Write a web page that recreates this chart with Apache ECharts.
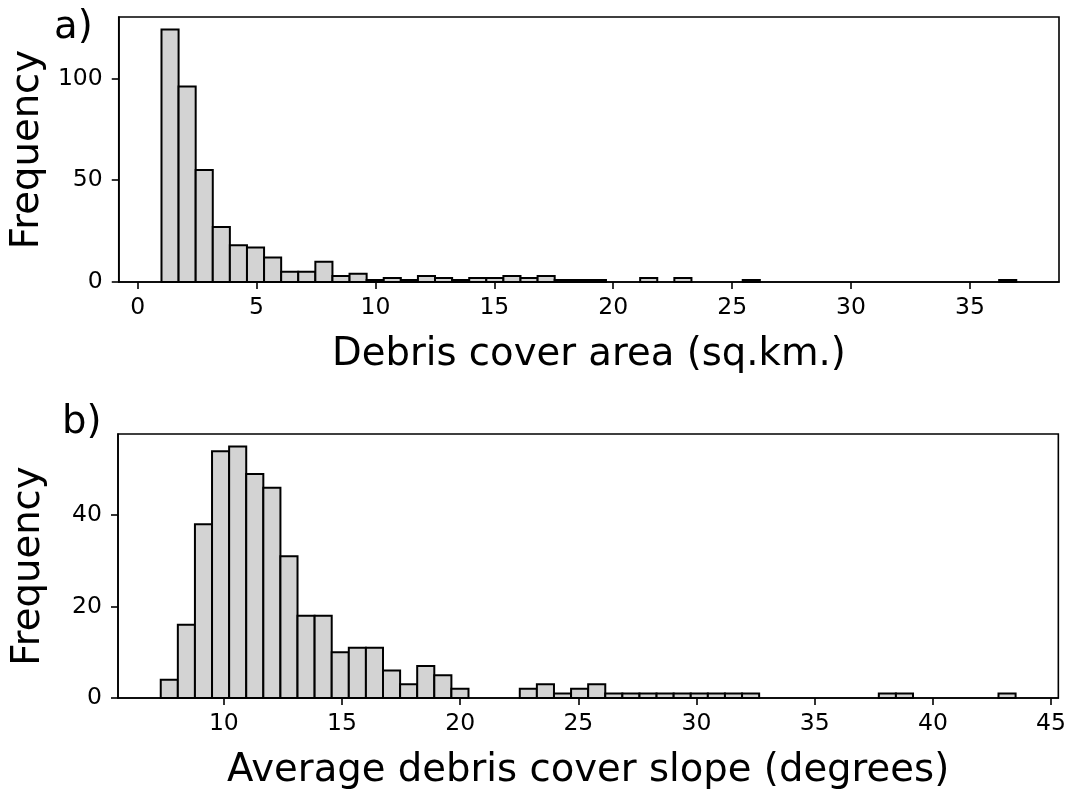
<!DOCTYPE html>
<html>
<head>
<meta charset="utf-8">
<title>Debris cover histograms</title>
<script src="https://cdn.jsdelivr.net/npm/echarts@6/dist/echarts.min.js"></script>
<style>
html, body { margin: 0; padding: 0; background: #fff; }
#chart { width: 1069px; height: 793px; }
</style>
</head>
<body>
<div id="chart"></div>
<script>
// a) debris cover area, 50 bins between the min and max of the data
var areaRange = [1.0, 36.95];
var areaCounts = [124, 96, 55, 27, 18, 17, 12, 5, 5, 10,
                  3, 4, 1, 2, 1, 3, 2, 1, 2, 2,
                  3, 2, 3, 1, 1, 1, 0, 0, 2, 0,
                  2, 0, 0, 0, 1, 0, 0, 0, 0, 0,
                  0, 0, 0, 0, 0, 0, 0, 0, 0, 1];
var areaTicks = [0, 5, 10, 15, 20, 25, 30, 35];
var areaFreqTicks = [0, 50, 100];

// b) average debris cover slope, 50 bins
var slopeRange = [7.33, 43.5];
var slopeCounts = [4, 16, 38, 54, 55, 49, 46, 31, 18, 18,
                   10, 11, 11, 6, 3, 7, 5, 2, 0, 0,
                   0, 2, 3, 1, 2, 3, 1, 1, 1, 1,
                   1, 1, 1, 1, 1, 0, 0, 0, 0, 0,
                   0, 0, 1, 1, 0, 0, 0, 0, 0, 1];
var slopeTicks = [10, 15, 20, 25, 30, 35, 40, 45];
var slopeFreqTicks = [0, 20, 40];

var FONT = 'DejaVu Sans';

// [left edge, right edge, count] for each non empty bin
function binData(range, counts) {
	var w = (range[1] - range[0]) / counts.length;
	var out = [];
	for (var i = 0; i < counts.length; i++) {
		if (counts[i] > 0) out.push([range[0] + i * w, range[0] + (i + 1) * w, counts[i]]);
	}
	return out;
}

// same 5% padding matplotlib puts around the data
function padded(lo, hi) {
	var d = (hi - lo) * 0.05;
	return [lo - d, hi + d];
}

function maxOf(arr) {
	var m = 0;
	for (var i = 0; i < arr.length; i++) if (arr[i] > m) m = arr[i];
	return m;
}

function renderBin(params, api) {
	var p0 = api.coord([api.value(0), api.value(2)]);
	var p1 = api.coord([api.value(1), 0]);
	return {
		type: 'rect',
		shape: { x: p0[0], y: p0[1], width: p1[0] - p0[0], height: p1[1] - p0[1] },
		style: { fill: '#d3d3d3', stroke: '#000', lineWidth: 2 }
	};
}

function xAxisFor(idx, range, ticks, name) {
	var ext = padded(range[0], range[1]);
	return {
		type: 'value', gridIndex: idx, min: ext[0], max: ext[1],
		name: name, nameLocation: 'middle', nameGap: 53,
		nameTextStyle: { fontFamily: FONT, fontSize: 38.6, color: '#000' },
		axisLine: { show: true, onZero: false, lineStyle: { color: '#000', width: 1.6 } },
		axisTick: { show: true, length: 7, lineStyle: { color: '#000', width: 1.6 }, customValues: ticks },
		axisLabel: { fontFamily: FONT, fontSize: 23.5, color: '#000', margin: 14, customValues: ticks },
		splitLine: { show: false }
	};
}

function yAxisFor(idx, counts, ticks) {
	return {
		type: 'value', gridIndex: idx, min: 0, max: maxOf(counts) * 1.05,
		name: 'Frequency', nameLocation: 'middle', nameGap: 70, nameRotate: 90,
		nameTextStyle: { fontFamily: FONT, fontSize: 38.6, color: '#000' },
		axisLine: { show: true, onZero: false, lineStyle: { color: '#000', width: 1.6 } },
		axisTick: { show: true, length: 7, lineStyle: { color: '#000', width: 1.6 }, customValues: ticks },
		axisLabel: { fontFamily: FONT, fontSize: 23.5, color: '#000', margin: 16, customValues: ticks },
		splitLine: { show: false }
	};
}

var myChart = echarts.init(document.getElementById('chart'));

var option = {
	backgroundColor: '#fff',
	animation: false,
	grid: [
		{ left: 118, top: 17, width: 941, height: 265, show: true, borderColor: '#000', borderWidth: 1.6, backgroundColor: 'transparent' },
		{ left: 118, top: 434, width: 941, height: 264, show: true, borderColor: '#000', borderWidth: 1.6, backgroundColor: 'transparent' }
	],
	xAxis: [
		xAxisFor(0, areaRange, areaTicks, 'Debris cover area (sq.km.)'),
		xAxisFor(1, slopeRange, slopeTicks, 'Average debris cover slope (degrees)')
	],
	yAxis: [
		yAxisFor(0, areaCounts, areaFreqTicks),
		yAxisFor(1, slopeCounts, slopeFreqTicks)
	],
	graphic: [
		{ type: 'text', left: 54, top: 8, style: { text: 'a)', fontFamily: FONT, fontSize: 38.6, fill: '#000' } },
		{ type: 'text', left: 62, top: 403, style: { text: 'b)', fontFamily: FONT, fontSize: 38.6, fill: '#000' } }
	],
	series: [
		{ type: 'custom', xAxisIndex: 0, yAxisIndex: 0, renderItem: renderBin, encode: { x: [0, 1], y: 2 }, data: binData(areaRange, areaCounts) },
		{ type: 'custom', xAxisIndex: 1, yAxisIndex: 1, renderItem: renderBin, encode: { x: [0, 1], y: 2 }, data: binData(slopeRange, slopeCounts) }
	]
};
myChart.setOption(option);
</script>
</body>
</html>
